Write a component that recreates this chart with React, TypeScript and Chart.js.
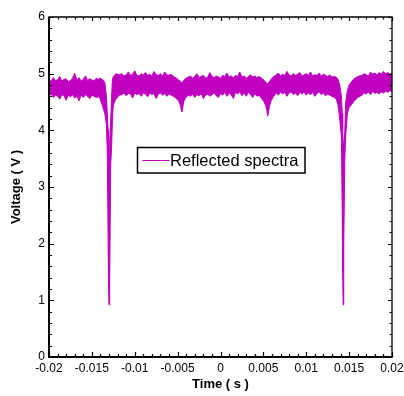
import React, { useEffect, useRef } from "react";
import { Chart, registerables } from "chart.js";

Chart.register(...registerables);

// ---- data: upper / lower envelope of the noisy trace, by segment ----
const timesA: number[] = [-0.02, -0.01975, -0.0195, -0.01925, -0.019, -0.01875, -0.0185, -0.01825, -0.018, -0.01775, -0.0175, -0.01725, -0.017, -0.01675, -0.0165, -0.01625, -0.016, -0.01575, -0.0155, -0.01525, -0.015, -0.01475, -0.0145, -0.01425];
const upperA: number[] = [4.9, 4.86, 4.93, 4.88, 4.89, 4.95, 4.87, 4.9, 4.91, 4.86, 4.88, 4.92, 5.01, 4.89, 4.93, 4.87, 4.9, 4.96, 4.88, 4.91, 4.89, 4.87, 4.92, 4.9];
const lowerA: number[] = [4.61, 4.64, 4.58, 4.62, 4.6, 4.55, 4.63, 4.61, 4.53, 4.62, 4.59, 4.63, 4.57, 4.6, 4.52, 4.62, 4.58, 4.63, 4.6, 4.56, 4.62, 4.6, 4.58, 4.59];

const timesDipL: number[] = [-0.0141, -0.0138, -0.0135, -0.0133, -0.0132, -0.0131, -0.01305, -0.013, -0.01295, -0.0129, -0.0128, -0.0127, -0.0126, -0.0125, -0.0122, -0.0118];
const upperDipL: number[] = [4.92, 4.9, 4.85, 4.6, 4.3, 4.0, 3.8, 3.6, 3.0, 3.8, 4.2, 4.6, 4.9, 4.95, 5.0, 4.98];
const lowerDipL: number[] = [4.58, 4.45, 4.3, 4.1, 3.6, 2.0, 1.2, 0.92, 0.92, 1.3, 3.4, 3.7, 4.2, 4.45, 4.55, 4.62];

const timesB: number[] = [-0.0115, -0.01125, -0.011, -0.01075, -0.0105, -0.01025, -0.01, -0.00975, -0.0095, -0.00925, -0.009, -0.00875, -0.0085, -0.00825, -0.008, -0.00775, -0.0075, -0.00725, -0.007, -0.00675, -0.0065, -0.00625, -0.006, -0.00575, -0.0055];
const upperB: number[] = [5.0, 4.96, 4.98, 5.03, 4.97, 4.99, 5.05, 4.97, 4.96, 5.0, 4.98, 5.02, 4.97, 4.99, 4.96, 5.04, 4.98, 4.97, 5.0, 4.96, 5.03, 4.98, 4.97, 4.99, 4.95];
const lowerB: number[] = [4.63, 4.66, 4.61, 4.65, 4.64, 4.57, 4.66, 4.63, 4.65, 4.6, 4.66, 4.64, 4.59, 4.66, 4.63, 4.65, 4.56, 4.64, 4.66, 4.62, 4.65, 4.6, 4.64, 4.62, 4.6];

const timesDip1: number[] = [-0.0052, -0.0049, -0.0047, -0.0046, -0.0045, -0.0044, -0.0043, -0.0041];
const upperDip1: number[] = [4.93, 4.89, 4.87, 4.85, 4.84, 4.86, 4.88, 4.91];
const lowerDip1: number[] = [4.57, 4.52, 4.45, 4.38, 4.33, 4.4, 4.5, 4.57];

const timesC: number[] = [-0.00375, -0.0035, -0.00325, -0.003, -0.00275, -0.0025, -0.00225, -0.002, -0.00175, -0.0015, -0.00125, -0.001, -0.00075, -0.0005, -0.00025, 0, 0.00025, 0.0005, 0.00075, 0.001, 0.00125, 0.0015, 0.00175, 0.002, 0.00225, 0.0025, 0.00275, 0.003, 0.00325, 0.0035, 0.00375, 0.004, 0.00425, 0.0045];
const upperC: number[] = [4.94, 4.96, 4.92, 4.95, 5.0, 4.93, 4.95, 4.97, 4.92, 4.94, 5.02, 4.95, 4.93, 4.96, 4.94, 4.92, 4.97, 4.95, 5.01, 4.94, 4.96, 4.93, 4.97, 4.95, 5.03, 4.94, 4.96, 4.92, 4.95, 4.98, 4.94, 4.96, 4.93, 4.95];
const lowerC: number[] = [4.62, 4.6, 4.64, 4.58, 4.63, 4.61, 4.65, 4.56, 4.62, 4.64, 4.6, 4.63, 4.66, 4.61, 4.58, 4.65, 4.62, 4.67, 4.6, 4.66, 4.63, 4.56, 4.67, 4.64, 4.68, 4.61, 4.66, 4.6, 4.67, 4.63, 4.58, 4.65, 4.6, 4.62];

const timesDip2: number[] = [0.0048, 0.0051, 0.0053, 0.0054, 0.0055, 0.0056, 0.0057, 0.0059, 0.0062];
const upperDip2: number[] = [4.92, 4.88, 4.85, 4.83, 4.82, 4.84, 4.86, 4.9, 4.95];
const lowerDip2: number[] = [4.56, 4.5, 4.42, 4.35, 4.25, 4.32, 4.42, 4.52, 4.6];

const timesD: number[] = [0.0065, 0.00675, 0.007, 0.00725, 0.0075, 0.00775, 0.008, 0.00825, 0.0085, 0.00875, 0.009, 0.00925, 0.0095, 0.00975, 0.01, 0.01025, 0.0105, 0.01075, 0.011, 0.01125, 0.0115, 0.01175, 0.012, 0.01225, 0.0125, 0.01275, 0.013, 0.01325];
const upperD: number[] = [4.98, 5.01, 4.96, 4.99, 4.97, 5.04, 4.98, 4.96, 5.0, 4.97, 4.99, 5.02, 4.96, 4.98, 5.0, 4.97, 5.03, 4.96, 4.98, 4.97, 5.01, 4.96, 4.99, 4.97, 4.95, 4.98, 4.94, 4.95];
const lowerD: number[] = [4.66, 4.62, 4.68, 4.64, 4.67, 4.6, 4.66, 4.68, 4.63, 4.66, 4.61, 4.67, 4.64, 4.68, 4.62, 4.66, 4.63, 4.67, 4.6, 4.65, 4.68, 4.63, 4.66, 4.61, 4.64, 4.62, 4.6, 4.58];

const timesDipR: number[] = [0.0135, 0.0137, 0.0139, 0.0141, 0.0142, 0.01425, 0.0143, 0.01435, 0.0144, 0.0145, 0.0146, 0.0148, 0.015, 0.0155, 0.016];
const upperDipR: number[] = [4.94, 4.9, 4.8, 4.6, 4.3, 4.0, 3.8, 3.5, 3.6, 4.0, 4.5, 4.7, 4.8, 4.9, 4.95];
const lowerDipR: number[] = [4.55, 4.45, 4.2, 3.9, 2.5, 1.5, 0.92, 0.95, 2.0, 3.5, 3.9, 4.3, 4.4, 4.5, 4.58];

const timesE: number[] = [0.0165, 0.01675, 0.017, 0.01725, 0.0175, 0.01775, 0.018, 0.01825, 0.0185, 0.01875, 0.019, 0.01925, 0.0195, 0.01975, 0.02];
const upperE: number[] = [4.97, 5.0, 4.98, 4.96, 5.03, 4.99, 5.01, 4.98, 5.02, 4.99, 5.04, 5.0, 5.02, 4.99, 5.01];
const lowerE: number[] = [4.62, 4.66, 4.64, 4.68, 4.63, 4.69, 4.65, 4.67, 4.64, 4.68, 4.66, 4.69, 4.67, 4.7, 4.68];

const xTickValues: number[] = [-0.02, -0.015, -0.01, -0.005, 0, 0.005, 0.01, 0.015, 0.02];
const xTickLabels: string[] = ["-0.02", "-0.015", "-0.01", "-0.005", "0", "0.005", "0.01", "0.015", "0.02"];
const yTickValues: number[] = [0, 1, 2, 3, 4, 5, 6];
const yTickLabels: string[] = ["0", "1", "2", "3", "4", "5", "6"];

const seriesLabel = "Reflected spectra";
const xTitle = "Time ( s )";
const yTitle = "Voltage ( V )";

const MAGENTA = "#C000C0";
const FONT = "Arial, 'Liberation Sans', sans-serif";

const timeValues = [...timesA, ...timesDipL, ...timesB, ...timesDip1, ...timesC, ...timesDip2, ...timesD, ...timesDipR, ...timesE];
const upperVoltage = [...upperA, ...upperDipL, ...upperB, ...upperDip1, ...upperC, ...upperDip2, ...upperD, ...upperDipR, ...upperE];
const lowerVoltage = [...lowerA, ...lowerDipL, ...lowerB, ...lowerDip1, ...lowerC, ...lowerDip2, ...lowerD, ...lowerDipR, ...lowerE];

const framePlugin = {
  id: "frameTicks",
  afterDraw(chart: any) {
    const { ctx, chartArea } = chart;
    const { left, right, top, bottom } = chartArea;
    const xs = chart.scales.x;
    const ys = chart.scales.y;
    ctx.save();
    ctx.strokeStyle = "#000";
    ctx.lineCap = "butt";

    const subdivide = (vals: number[]) => {
      const out: { v: number; major: boolean }[] = [];
      for (let i = 0; i < vals.length; i++) {
        out.push({ v: vals[i], major: true });
        if (i < vals.length - 1) {
          const step = (vals[i + 1] - vals[i]) / 5;
          for (let k = 1; k < 5; k++) out.push({ v: vals[i] + step * k, major: false });
        }
      }
      return out;
    };

    ctx.lineWidth = 1.2;
    for (const t of subdivide(xTickValues)) {
      const px = Math.round(xs.getPixelForValue(t.v)) + 0.5;
      const lb = t.major ? 5 : 3;
      const lt = t.major ? 4 : 2.5;
      ctx.beginPath();
      ctx.moveTo(px, bottom);
      ctx.lineTo(px, bottom - lb);
      ctx.moveTo(px, top);
      ctx.lineTo(px, top + lt);
      ctx.stroke();
    }
    for (const t of subdivide(yTickValues)) {
      const py = Math.round(ys.getPixelForValue(t.v)) + 0.5;
      const ll = t.major ? 5 : 3;
      const lr = t.major ? 4 : 2.5;
      ctx.beginPath();
      ctx.moveTo(left, py);
      ctx.lineTo(left + ll, py);
      ctx.moveTo(right, py);
      ctx.lineTo(right - lr, py);
      ctx.stroke();
    }

    ctx.lineWidth = 1.3;
    ctx.beginPath();
    ctx.moveTo(left, top);
    ctx.lineTo(right, top);
    ctx.lineTo(right, bottom);
    ctx.stroke();
    ctx.lineWidth = 2;
    ctx.beginPath();
    ctx.moveTo(left, top - 0.6);
    ctx.lineTo(left, bottom);
    ctx.lineTo(right + 0.6, bottom);
    ctx.stroke();

    // legend box
    const bx = 137.5, by = 147.5, bw = 167.5, bh = 25.5;
    ctx.fillStyle = "#fff";
    ctx.fillRect(bx, by, bw, bh);
    ctx.lineWidth = 1.5;
    ctx.strokeStyle = "#000";
    ctx.strokeRect(bx, by, bw, bh);
    ctx.strokeStyle = MAGENTA;
    ctx.lineWidth = 1;
    ctx.beginPath();
    ctx.moveTo(bx + 5, by + 13);
    ctx.lineTo(bx + 32, by + 13);
    ctx.stroke();
    ctx.fillStyle = "#000";
    ctx.font = `16.5px ${FONT}`;
    ctx.textBaseline = "middle";
    ctx.textAlign = "left";
    ctx.fillText(seriesLabel, bx + 32.5, by + 13.5);
    ctx.restore();
  },
};

export default function App() {
  const canvasRef = useRef<HTMLCanvasElement | null>(null);

  useEffect(() => {
    if (!canvasRef.current) return;
    const upperPts = timeValues.map((t, i) => ({ x: t, y: upperVoltage[i] }));
    const lowerPts = timeValues.map((t, i) => ({ x: t, y: lowerVoltage[i] }));

    const chart = new Chart(canvasRef.current, {
      type: "line",
      data: {
        datasets: [
          {
            label: seriesLabel,
            data: upperPts,
            borderColor: MAGENTA,
            backgroundColor: MAGENTA,
            borderWidth: 1,
            pointRadius: 0,
            tension: 0,
            fill: false,
          },
          {
            label: seriesLabel + " (lower)",
            data: lowerPts,
            borderColor: MAGENTA,
            backgroundColor: MAGENTA,
            borderWidth: 1,
            pointRadius: 0,
            tension: 0,
            fill: "-1",
          },
        ],
      },
      options: {
        responsive: false,
        animation: false,
        devicePixelRatio: 1,
        layout: { padding: { top: 17, right: 12, left: 0, bottom: 0 } },
        plugins: {
          legend: { display: false },
          tooltip: { enabled: false },
        },
        scales: {
          x: {
            type: "linear",
            min: -0.02,
            max: 0.02,
            afterBuildTicks: (s: any) => {
              s.ticks = xTickValues.map((v) => ({ value: v }));
            },
            afterFit: (s: any) => {
              s.height = 39;
              s.paddingLeft = 0;
              s.paddingRight = 0;
            },
            ticks: {
              autoSkip: false,
              maxRotation: 0,
              padding: 4,
              color: "#000",
              font: { family: FONT, size: 12 },
              callback: (v: any) => {
                const i = xTickValues.findIndex((t) => Math.abs(t - Number(v)) < 1e-9);
                return i >= 0 ? xTickLabels[i] : "";
              },
            },
            grid: { display: false, drawTicks: false },
            border: { display: false },
            title: {
              display: true,
              text: xTitle,
              color: "#000",
              font: { family: FONT, size: 13, weight: "bold" },
              padding: { top: 0, bottom: 4 },
            },
          },
          y: {
            type: "linear",
            min: 0,
            max: 6,
            afterBuildTicks: (s: any) => {
              s.ticks = yTickValues.map((v) => ({ value: v }));
            },
            afterFit: (s: any) => {
              s.width = 49;
            },
            ticks: {
              autoSkip: false,
              padding: 4,
              color: "#000",
              font: { family: FONT, size: 12 },
              callback: (v: any) => {
                const i = yTickValues.findIndex((t) => Math.abs(t - Number(v)) < 1e-9);
                return i >= 0 ? yTickLabels[i] : "";
              },
            },
            grid: { display: false, drawTicks: false },
            border: { display: false },
            title: {
              display: true,
              text: yTitle,
              color: "#000",
              font: { family: FONT, size: 13, weight: "bold" },
              padding: { top: 9, bottom: 0 },
            },
          },
        },
      },
      plugins: [framePlugin],
    } as any);

    return () => {
      chart.destroy();
    };
  }, []);

  return (
    <div style={{ position: "fixed", left: 0, top: 0, width: 404, height: 396, background: "#fff" }}>
      <canvas ref={canvasRef} width={404} height={396} style={{ width: 404, height: 396, display: "block" }} />
    </div>
  );
}
